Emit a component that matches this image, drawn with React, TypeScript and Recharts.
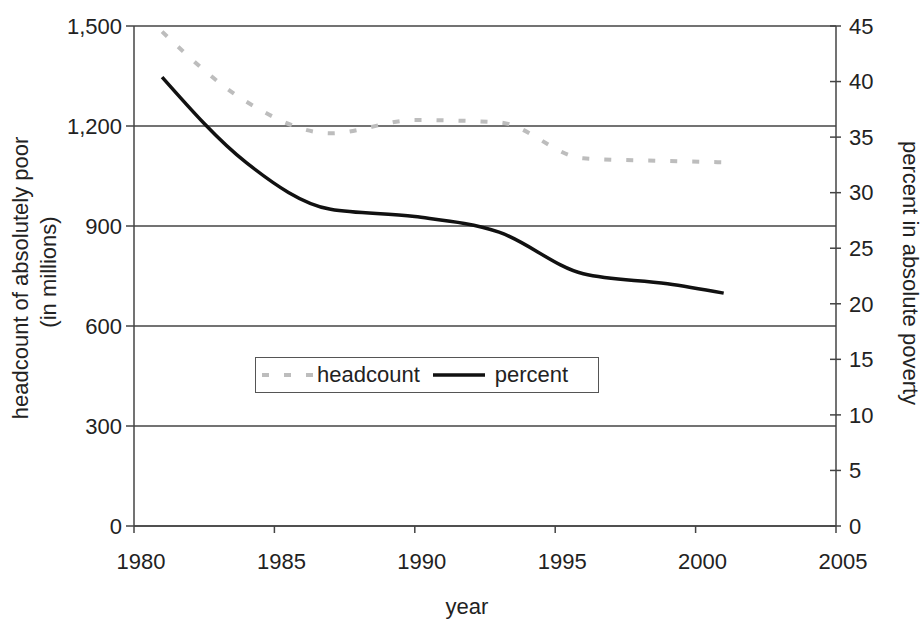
import { LineChart, Line, XAxis, YAxis, CartesianGrid, Legend, Label } from 'recharts'

const years = [1981, 1984, 1987, 1990, 1993, 1996, 1999, 2001]
const headcount = [1483, 1273, 1178, 1218, 1211, 1103, 1095, 1091]
const percent = [40.4, 32.7, 28.5, 27.85, 26.45, 22.7, 21.8, 20.96]

const yearTicks = [1980, 1985, 1990, 1995, 2000, 2005]
const headcountTicks = [0, 300, 600, 900, 1200, 1500]
const percentTicks = [0, 5, 10, 15, 20, 25, 30, 35, 40, 45]

const data = years.map((year, i) => ({ year, headcount: headcount[i], percent: percent[i] }))

const FONT = '"Liberation Sans", Arial, Helvetica, sans-serif'
const INK = '#222'
const AXIS = '#444'

function RightTick(props: any) {
	const { x, y, payload } = props
	const ax = x - 13
	return (
		<g>
			<line x1={ax - 6} x2={ax + 5} y1={y} y2={y} stroke={AXIS} strokeWidth={1.5} />
			<text x={x} y={y} dy="0.355em" textAnchor="start" fill={INK} fontSize={22} fontFamily={FONT}>
				{payload.value}
			</text>
		</g>
	)
}

function LeftTitle() {
	return (
		<g fill={INK} fontSize={22} fontFamily={FONT} textAnchor="middle">
			<text transform="translate(27.5,278) rotate(-90)">headcount of absolutely poor</text>
			<text transform="translate(55.5,272) rotate(-90)">(in millions)</text>
		</g>
	)
}

function RightTitle() {
	return (
		<text
			transform="translate(903,273) rotate(90)"
			textAnchor="middle"
			fill={INK}
			fontSize={22}
			fontFamily={FONT}
		>
			percent in absolute poverty
		</text>
	)
}

function LegendBox() {
	return (
		<div
			style={{
				boxSizing: 'border-box',
				width: 344,
				height: 36,
				border: '1.5px solid #555',
				background: '#fff',
				display: 'flex',
				alignItems: 'center',
				paddingLeft: 6,
				fontSize: 22,
				fontFamily: FONT,
				color: INK
			}}
		>
			<svg width={54} height={10}>
				<line x1={0} x2={54} y1={5} y2={5} stroke="#bdbdbd" strokeWidth={4} strokeDasharray="7 15" />
			</svg>
			<span style={{ marginLeft: 1 }}>headcount</span>
			<svg width={52} height={10} style={{ marginLeft: 13 }}>
				<line x1={0} x2={52} y1={5} y2={5} stroke="#111" strokeWidth={3.5} />
			</svg>
			<span style={{ marginLeft: 10 }}>percent</span>
		</div>
	)
}

export default function App() {
	return (
		<div style={{ position: 'absolute', left: 0, top: 0, width: 922, height: 622, background: '#fff' }}>
			<LineChart width={922} height={622} data={data} margin={{ top: 26, right: 0, bottom: 0, left: 0 }}>
				<CartesianGrid yAxisId="left" vertical={false} stroke={AXIS} strokeWidth={1.5} />
				<XAxis
					dataKey="year"
					type="number"
					domain={[1980, 2005]}
					ticks={yearTicks}
					height={96}
					tickSize={7}
					tickMargin={20}
					stroke={AXIS}
					strokeWidth={1.5}
					tick={{ fill: INK, fontSize: 22, fontFamily: FONT, dx: 7 }}
				>
					<Label value="year" position="insideBottom" offset={8} dx={-18} fill={INK} fontSize={22} fontFamily={FONT} />
				</XAxis>
				<YAxis
					yAxisId="left"
					domain={[0, 1500]}
					ticks={headcountTicks}
					width={134}
					tickSize={8}
					tickMargin={4}
					stroke={AXIS}
					strokeWidth={1.5}
					tickFormatter={(v: number) => v.toLocaleString('en-US')}
					tick={{ fill: INK, fontSize: 22, fontFamily: FONT }}
					label={{ content: () => <LeftTitle /> }}
				/>
				<YAxis
					yAxisId="right"
					orientation="right"
					domain={[0, 45]}
					ticks={percentTicks}
					width={86}
					tickSize={5}
					tickMargin={8}
					tickLine={false}
					stroke={AXIS}
					strokeWidth={1.5}
					tick={<RightTick />}
					label={{ content: () => <RightTitle /> }}
				/>
				<Legend
					layout="horizontal"
					verticalAlign="middle"
					align="center"
					content={() => <LegendBox />}
					wrapperStyle={{ left: 255, top: 357, width: 344, height: 36 }}
				/>
				<Line
					yAxisId="left"
					type="monotone"
					dataKey="headcount"
					stroke="#bdbdbd"
					strokeWidth={4}
					strokeDasharray="7 15"
					dot={false}
					activeDot={false}
					isAnimationActive={false}
				/>
				<Line
					yAxisId="right"
					type="monotone"
					dataKey="percent"
					stroke="#111"
					strokeWidth={3.5}
					dot={false}
					activeDot={false}
					isAnimationActive={false}
				/>
			</LineChart>
		</div>
	)
}
